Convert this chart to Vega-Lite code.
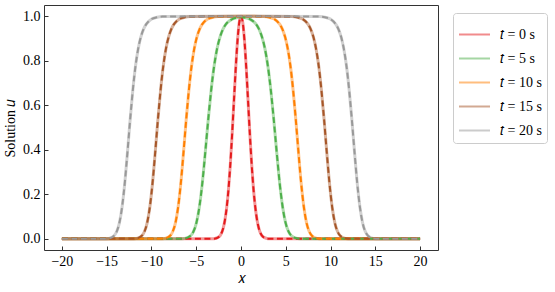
{
"$schema":"https://vega.github.io/schema/vega-lite/v6.json",
"width":394,"height":245,
"autosize":{"type":"none"},
"padding":{"left":44,"top":5,"right":117,"bottom":42},
"config":{
 "view":{"stroke":"#333","strokeWidth":1},
 "font":"Liberation Serif",
 "style":{"guide-label":{"font":"Liberation Serif","fontSize":14,"fill":"#000"},"guide-title":{"font":"Liberation Serif","fontSize":14,"fill":"#000"}},
 "axis":{"domain":false,"grid":false,"tickSize":-4,"tickColor":"#333","labelFont":"Liberation Serif","labelFontSize":14,"labelColor":"#000","titleFont":"Liberation Serif","titleFontSize":14,"titleFontWeight":"normal","titleColor":"#000","labelPadding":8},
 "legend":{"orient":"none","legendX":409,"legendY":8,"title":null,"labelFont":"Liberation Serif","labelFontSize":14,"labelColor":"#000","symbolType":"stroke","symbolStrokeWidth":2,"symbolOpacity":0.5,"symbolSize":961,"strokeColor":"#ccc","fillColor":"white","cornerRadius":3,"padding":5,"rowPadding":0,"labelOffset":9}
},
"data":{"values":[
{"s":"𝑡 = 0 s","x":-20,"u":0},{"s":"𝑡 = 0 s","x":-5,"u":0},{"s":"𝑡 = 0 s","x":-3.5,"u":0},{"s":"𝑡 = 0 s","x":-3,"u":0.001},{"s":"𝑡 = 0 s","x":-2.5,"u":0.008},{"s":"𝑡 = 0 s","x":-2.2,"u":0.024},{"s":"𝑡 = 0 s","x":-2,"u":0.046},{"s":"𝑡 = 0 s","x":-1.8,"u":0.083},{"s":"𝑡 = 0 s","x":-1.6,"u":0.14},{"s":"𝑡 = 0 s","x":-1.4,"u":0.221},{"s":"𝑡 = 0 s","x":-1.2,"u":0.33},{"s":"𝑡 = 0 s","x":-1,"u":0.463},{"s":"𝑡 = 0 s","x":-0.8,"u":0.611},{"s":"𝑡 = 0 s","x":-0.6,"u":0.758},{"s":"𝑡 = 0 s","x":-0.4,"u":0.884},{"s":"𝑡 = 0 s","x":-0.2,"u":0.97},{"s":"𝑡 = 0 s","x":0,"u":1},{"s":"𝑡 = 0 s","x":0.2,"u":0.97},{"s":"𝑡 = 0 s","x":0.4,"u":0.884},{"s":"𝑡 = 0 s","x":0.6,"u":0.758},{"s":"𝑡 = 0 s","x":0.8,"u":0.611},{"s":"𝑡 = 0 s","x":1,"u":0.463},{"s":"𝑡 = 0 s","x":1.2,"u":0.33},{"s":"𝑡 = 0 s","x":1.4,"u":0.221},{"s":"𝑡 = 0 s","x":1.6,"u":0.14},{"s":"𝑡 = 0 s","x":1.8,"u":0.083},{"s":"𝑡 = 0 s","x":2,"u":0.046},{"s":"𝑡 = 0 s","x":2.2,"u":0.024},{"s":"𝑡 = 0 s","x":2.5,"u":0.008},{"s":"𝑡 = 0 s","x":3,"u":0.001},{"s":"𝑡 = 0 s","x":3.5,"u":0},{"s":"𝑡 = 0 s","x":5,"u":0},{"s":"𝑡 = 0 s","x":20,"u":0},
{"s":"𝑡 = 5 s","x":-20,"u":0},{"s":"𝑡 = 5 s","x":-8,"u":0},{"s":"𝑡 = 5 s","x":-6.96,"u":0.0003},{"s":"𝑡 = 5 s","x":-6.3,"u":0.002},{"s":"𝑡 = 5 s","x":-5.64,"u":0.014},{"s":"𝑡 = 5 s","x":-5.31,"u":0.033},{"s":"𝑡 = 5 s","x":-4.98,"u":0.072},{"s":"𝑡 = 5 s","x":-4.65,"u":0.143},{"s":"𝑡 = 5 s","x":-4.32,"u":0.25},{"s":"𝑡 = 5 s","x":-3.99,"u":0.388},{"s":"𝑡 = 5 s","x":-3.66,"u":0.535},{"s":"𝑡 = 5 s","x":-3.33,"u":0.668},{"s":"𝑡 = 5 s","x":-3,"u":0.776},{"s":"𝑡 = 5 s","x":-2.67,"u":0.854},{"s":"𝑡 = 5 s","x":-2.34,"u":0.907},{"s":"𝑡 = 5 s","x":-2.01,"u":0.942},{"s":"𝑡 = 5 s","x":-1.68,"u":0.964},{"s":"𝑡 = 5 s","x":-1.02,"u":0.986},{"s":"𝑡 = 5 s","x":-0.36,"u":0.994},{"s":"𝑡 = 5 s","x":0,"u":0.995},{"s":"𝑡 = 5 s","x":0.36,"u":0.994},{"s":"𝑡 = 5 s","x":1.02,"u":0.986},{"s":"𝑡 = 5 s","x":1.68,"u":0.964},{"s":"𝑡 = 5 s","x":2.01,"u":0.942},{"s":"𝑡 = 5 s","x":2.34,"u":0.907},{"s":"𝑡 = 5 s","x":2.67,"u":0.854},{"s":"𝑡 = 5 s","x":3,"u":0.776},{"s":"𝑡 = 5 s","x":3.33,"u":0.668},{"s":"𝑡 = 5 s","x":3.66,"u":0.535},{"s":"𝑡 = 5 s","x":3.99,"u":0.388},{"s":"𝑡 = 5 s","x":4.32,"u":0.25},{"s":"𝑡 = 5 s","x":4.65,"u":0.143},{"s":"𝑡 = 5 s","x":4.98,"u":0.072},{"s":"𝑡 = 5 s","x":5.31,"u":0.033},{"s":"𝑡 = 5 s","x":5.64,"u":0.014},{"s":"𝑡 = 5 s","x":6.3,"u":0.002},{"s":"𝑡 = 5 s","x":6.96,"u":0.0003},{"s":"𝑡 = 5 s","x":8,"u":0},{"s":"𝑡 = 5 s","x":20,"u":0},
{"s":"𝑡 = 10 s","x":-20,"u":0},{"s":"𝑡 = 10 s","x":-11,"u":0},{"s":"𝑡 = 10 s","x":-9.12,"u":0.0003},{"s":"𝑡 = 10 s","x":-8.52,"u":0.002},{"s":"𝑡 = 10 s","x":-7.92,"u":0.014},{"s":"𝑡 = 10 s","x":-7.62,"u":0.033},{"s":"𝑡 = 10 s","x":-7.32,"u":0.072},{"s":"𝑡 = 10 s","x":-7.02,"u":0.143},{"s":"𝑡 = 10 s","x":-6.72,"u":0.25},{"s":"𝑡 = 10 s","x":-6.42,"u":0.388},{"s":"𝑡 = 10 s","x":-6.12,"u":0.535},{"s":"𝑡 = 10 s","x":-5.82,"u":0.668},{"s":"𝑡 = 10 s","x":-5.52,"u":0.776},{"s":"𝑡 = 10 s","x":-5.22,"u":0.854},{"s":"𝑡 = 10 s","x":-4.92,"u":0.907},{"s":"𝑡 = 10 s","x":-4.62,"u":0.942},{"s":"𝑡 = 10 s","x":-4.32,"u":0.964},{"s":"𝑡 = 10 s","x":-3.72,"u":0.987},{"s":"𝑡 = 10 s","x":-3.12,"u":0.995},{"s":"𝑡 = 10 s","x":-2.52,"u":0.998},{"s":"𝑡 = 10 s","x":0,"u":1},{"s":"𝑡 = 10 s","x":2.52,"u":0.998},{"s":"𝑡 = 10 s","x":3.12,"u":0.995},{"s":"𝑡 = 10 s","x":3.72,"u":0.987},{"s":"𝑡 = 10 s","x":4.32,"u":0.964},{"s":"𝑡 = 10 s","x":4.62,"u":0.942},{"s":"𝑡 = 10 s","x":4.92,"u":0.907},{"s":"𝑡 = 10 s","x":5.22,"u":0.854},{"s":"𝑡 = 10 s","x":5.52,"u":0.776},{"s":"𝑡 = 10 s","x":5.82,"u":0.668},{"s":"𝑡 = 10 s","x":6.12,"u":0.535},{"s":"𝑡 = 10 s","x":6.42,"u":0.388},{"s":"𝑡 = 10 s","x":6.72,"u":0.25},{"s":"𝑡 = 10 s","x":7.02,"u":0.143},{"s":"𝑡 = 10 s","x":7.32,"u":0.072},{"s":"𝑡 = 10 s","x":7.62,"u":0.033},{"s":"𝑡 = 10 s","x":7.92,"u":0.014},{"s":"𝑡 = 10 s","x":8.52,"u":0.002},{"s":"𝑡 = 10 s","x":9.12,"u":0.0003},{"s":"𝑡 = 10 s","x":11,"u":0},{"s":"𝑡 = 10 s","x":20,"u":0},
{"s":"𝑡 = 15 s","x":-20,"u":0},{"s":"𝑡 = 15 s","x":-14,"u":0},{"s":"𝑡 = 15 s","x":-12.28,"u":0.0003},{"s":"𝑡 = 15 s","x":-11.68,"u":0.002},{"s":"𝑡 = 15 s","x":-11.08,"u":0.014},{"s":"𝑡 = 15 s","x":-10.78,"u":0.033},{"s":"𝑡 = 15 s","x":-10.48,"u":0.072},{"s":"𝑡 = 15 s","x":-10.18,"u":0.143},{"s":"𝑡 = 15 s","x":-9.88,"u":0.25},{"s":"𝑡 = 15 s","x":-9.58,"u":0.388},{"s":"𝑡 = 15 s","x":-9.28,"u":0.535},{"s":"𝑡 = 15 s","x":-8.98,"u":0.668},{"s":"𝑡 = 15 s","x":-8.68,"u":0.776},{"s":"𝑡 = 15 s","x":-8.38,"u":0.854},{"s":"𝑡 = 15 s","x":-8.08,"u":0.907},{"s":"𝑡 = 15 s","x":-7.78,"u":0.942},{"s":"𝑡 = 15 s","x":-7.48,"u":0.964},{"s":"𝑡 = 15 s","x":-6.88,"u":0.987},{"s":"𝑡 = 15 s","x":-6.28,"u":0.995},{"s":"𝑡 = 15 s","x":-5.68,"u":0.998},{"s":"𝑡 = 15 s","x":0,"u":1},{"s":"𝑡 = 15 s","x":5.68,"u":0.998},{"s":"𝑡 = 15 s","x":6.28,"u":0.995},{"s":"𝑡 = 15 s","x":6.88,"u":0.987},{"s":"𝑡 = 15 s","x":7.48,"u":0.964},{"s":"𝑡 = 15 s","x":7.78,"u":0.942},{"s":"𝑡 = 15 s","x":8.08,"u":0.907},{"s":"𝑡 = 15 s","x":8.38,"u":0.854},{"s":"𝑡 = 15 s","x":8.68,"u":0.776},{"s":"𝑡 = 15 s","x":8.98,"u":0.668},{"s":"𝑡 = 15 s","x":9.28,"u":0.535},{"s":"𝑡 = 15 s","x":9.58,"u":0.388},{"s":"𝑡 = 15 s","x":9.88,"u":0.25},{"s":"𝑡 = 15 s","x":10.18,"u":0.143},{"s":"𝑡 = 15 s","x":10.48,"u":0.072},{"s":"𝑡 = 15 s","x":10.78,"u":0.033},{"s":"𝑡 = 15 s","x":11.08,"u":0.014},{"s":"𝑡 = 15 s","x":11.68,"u":0.002},{"s":"𝑡 = 15 s","x":12.28,"u":0.0003},{"s":"𝑡 = 15 s","x":14,"u":0},{"s":"𝑡 = 15 s","x":20,"u":0},
{"s":"𝑡 = 20 s","x":-20,"u":0},{"s":"𝑡 = 20 s","x":-17,"u":0},{"s":"𝑡 = 20 s","x":-15.38,"u":0.0003},{"s":"𝑡 = 20 s","x":-14.78,"u":0.002},{"s":"𝑡 = 20 s","x":-14.18,"u":0.014},{"s":"𝑡 = 20 s","x":-13.88,"u":0.033},{"s":"𝑡 = 20 s","x":-13.58,"u":0.072},{"s":"𝑡 = 20 s","x":-13.28,"u":0.143},{"s":"𝑡 = 20 s","x":-12.98,"u":0.25},{"s":"𝑡 = 20 s","x":-12.68,"u":0.388},{"s":"𝑡 = 20 s","x":-12.38,"u":0.535},{"s":"𝑡 = 20 s","x":-12.08,"u":0.668},{"s":"𝑡 = 20 s","x":-11.78,"u":0.776},{"s":"𝑡 = 20 s","x":-11.48,"u":0.854},{"s":"𝑡 = 20 s","x":-11.18,"u":0.907},{"s":"𝑡 = 20 s","x":-10.88,"u":0.942},{"s":"𝑡 = 20 s","x":-10.58,"u":0.964},{"s":"𝑡 = 20 s","x":-9.98,"u":0.987},{"s":"𝑡 = 20 s","x":-9.38,"u":0.995},{"s":"𝑡 = 20 s","x":-8.78,"u":0.998},{"s":"𝑡 = 20 s","x":0,"u":1},{"s":"𝑡 = 20 s","x":8.78,"u":0.998},{"s":"𝑡 = 20 s","x":9.38,"u":0.995},{"s":"𝑡 = 20 s","x":9.98,"u":0.987},{"s":"𝑡 = 20 s","x":10.58,"u":0.964},{"s":"𝑡 = 20 s","x":10.88,"u":0.942},{"s":"𝑡 = 20 s","x":11.18,"u":0.907},{"s":"𝑡 = 20 s","x":11.48,"u":0.854},{"s":"𝑡 = 20 s","x":11.78,"u":0.776},{"s":"𝑡 = 20 s","x":12.08,"u":0.668},{"s":"𝑡 = 20 s","x":12.38,"u":0.535},{"s":"𝑡 = 20 s","x":12.68,"u":0.388},{"s":"𝑡 = 20 s","x":12.98,"u":0.25},{"s":"𝑡 = 20 s","x":13.28,"u":0.143},{"s":"𝑡 = 20 s","x":13.58,"u":0.072},{"s":"𝑡 = 20 s","x":13.88,"u":0.033},{"s":"𝑡 = 20 s","x":14.18,"u":0.014},{"s":"𝑡 = 20 s","x":14.78,"u":0.002},{"s":"𝑡 = 20 s","x":15.38,"u":0.0003},{"s":"𝑡 = 20 s","x":17,"u":0},{"s":"𝑡 = 20 s","x":20,"u":0}
]},
"encoding":{
 "x":{"field":"x","type":"quantitative","scale":{"domain":[-22,22],"nice":false,"zero":false},"axis":{"values":[-20,-15,-10,-5,0,5,10,15,20],"title":"𝑥","titlePadding":3,"labelFont":"Liberation Serif","labelFontSize":14}},
 "y":{"field":"u","type":"quantitative","scale":{"domain":[-0.05,1.05],"nice":false,"zero":false},"axis":{"values":[0,0.2,0.4,0.6,0.8,1.0],"format":".1f","title":"Solution 𝑢","titlePadding":5,"labelFont":"Liberation Serif","labelFontSize":14}}
},
"layer":[
 {"mark":{"type":"line","strokeWidth":3,"opacity":0.45,"interpolate":"monotone"},
  "encoding":{"color":{"field":"s","type":"nominal","scale":{"domain":["𝑡 = 0 s","𝑡 = 5 s","𝑡 = 10 s","𝑡 = 15 s","𝑡 = 20 s"],"range":["#e41a1c","#4daf4a","#ff7f00","#a65628","#999999"]},"legend":{"labelFont":"Liberation Serif","labelFontSize":14}}}},
 {"mark":{"type":"line","strokeWidth":2,"strokeDash":[6,3.5],"interpolate":"monotone"},
  "encoding":{"color":{"field":"s","type":"nominal","legend":null}}}
],
"resolve":{"legend":{"color":"independent"}}
}
